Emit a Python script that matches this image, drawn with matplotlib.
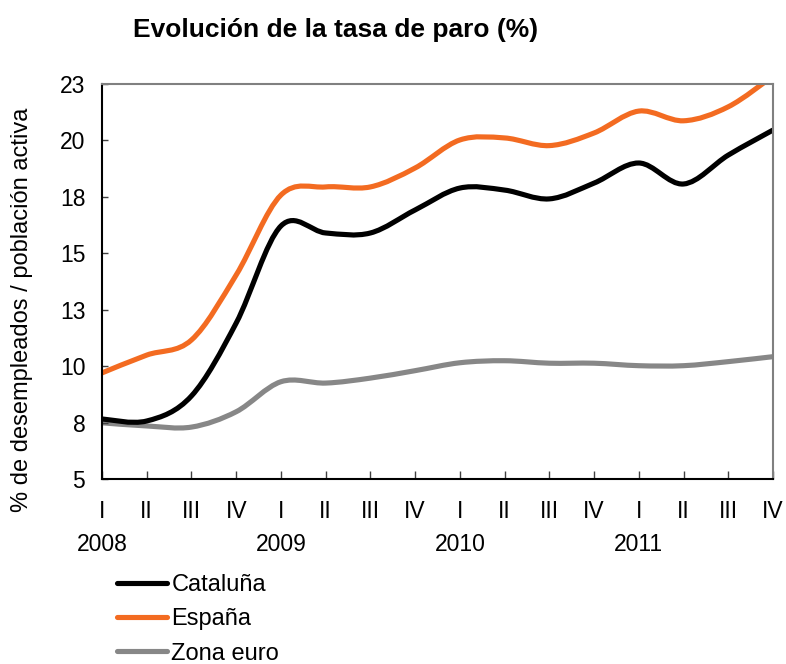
import numpy as np
import matplotlib
matplotlib.use("Agg")
import matplotlib.pyplot as plt
from matplotlib.path import Path
from matplotlib.patches import PathPatch
from matplotlib.lines import Line2D

plt.rcParams['font.family'] = ['Liberation Sans', 'DejaVu Sans']

# ---- data ----
quarters = ["I", "II", "III", "IV"] * 4
years = ["2008", "2009", "2010", "2011"]
cataluna = [7.66, 7.57, 8.68, 11.91, 16.21, 15.90, 15.90, 16.92,
            17.89, 17.80, 17.41, 18.11, 19.00, 18.07, 19.35, 20.46]
espana = [9.70, 10.49, 11.16, 14.04, 17.58, 17.94, 17.94, 18.78,
          20.02, 20.11, 19.77, 20.33, 21.30, 20.87, 21.49, 22.85]
zona_euro = [7.49, 7.35, 7.30, 7.98, 9.31, 9.25, 9.47, 9.80,
             10.15, 10.24, 10.13, 10.13, 10.02, 10.02, 10.20, 10.42]
series_names = ["Cataluña", "España", "Zona euro"]
y_ticks = [5, 7.5, 10, 12.5, 15, 17.5, 20, 22.5]
y_tick_labels = ["5", "8", "10", "13", "15", "18", "20", "23"]

colors = ["#000000", "#F36B21", "#878787"]
LW = 3.7


def smooth_path(xs, ys):
    """Excel-like smoothed line via cubic Bezier segments."""
    pts = np.column_stack([xs, ys]).astype(float)
    n = len(pts)
    verts = [pts[0]]
    codes = [Path.MOVETO]
    for i in range(n - 1):
        p0 = pts[i - 1] if i > 0 else pts[i]
        p1 = pts[i]
        p2 = pts[i + 1]
        p3 = pts[i + 2] if i + 2 < n else pts[i + 1]
        c1 = p1 + (p2 - p0) / 6.0
        c2 = p2 - (p3 - p1) / 6.0
        verts += [c1, c2, p2]
        codes += [Path.CURVE4] * 3
    return Path(verts, codes)


fig = plt.figure(figsize=(7.86, 6.64), dpi=100)
ax = fig.add_axes([102 / 786, 1 - 479 / 664, (773 - 102) / 786, (479 - 84) / 664])

x = np.arange(len(quarters))
for data, c in [(zona_euro, colors[2]), (espana, colors[1]), (cataluna, colors[0])]:
    patch = PathPatch(smooth_path(x, data), fill=False, edgecolor=c, lw=LW,
                      capstyle='butt', joinstyle='round')
    ax.add_patch(patch)
handles = [Line2D([], [], color=c, lw=LW, label=name, solid_capstyle='round')
           for c, name in zip(colors, series_names)]

ax.set_xlim(0, len(quarters) - 1)
ax.set_ylim(5, 22.5)
ax.set_xticks(x)
ax.set_xticklabels(quarters)
ax.set_yticks(y_ticks)
ax.set_yticklabels(y_tick_labels)

ax.tick_params(axis='x', direction='in', length=5.5, width=1.0, color='#404040',
               labelsize=16.5, pad=15)
ax.tick_params(axis='y', direction='in', length=4.5, width=1.0, color='#404040',
               labelsize=16.5, pad=12)

for s in ['left', 'bottom']:
    ax.spines[s].set_color('black')
    ax.spines[s].set_linewidth(1.5)
for s in ['top', 'right']:
    ax.spines[s].set_color('#808080')
    ax.spines[s].set_linewidth(1.5)

for i, yr in enumerate(years):
    ax.annotate(yr, xy=(i * 4, 0), xycoords=('data', 'axes fraction'),
                xytext=(0, -47.5), textcoords='offset points',
                ha='center', va='center', fontsize=16.5)

fig.text(22 / 786, 1 - 310 / 664, "% de desempleados / población activa",
         rotation=90, ha='center', va='center', fontsize=17)
fig.text(336 / 786, 1 - 37 / 664, "Evolución de la tasa de paro (%)",
         ha='center', va='baseline', fontsize=19, fontweight='bold')

fig.legend(handles=handles, loc='upper left',
           bbox_to_anchor=(117 / 786, 1 - 574 / 664), frameon=False,
           fontsize=17, handlelength=2.1, handletextpad=0.2,
           labelspacing=0.52, borderpad=0, borderaxespad=0)

fig.savefig("out.png", dpi=100)
